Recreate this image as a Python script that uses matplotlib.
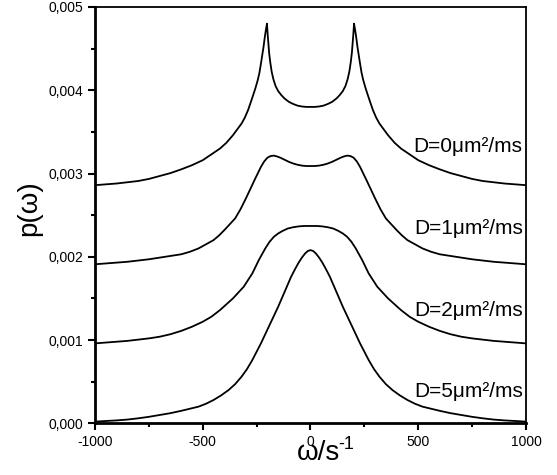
import numpy as np
from matplotlib import pyplot as plt

plt.rcParams['font.family'] = ['Liberation Sans', 'DejaVu Sans']

# curves, p in units of 1e-3
x_d0 = [-1000, -950, -900, -850, -800, -750, -700, -650, -600, -550, -500, -460, -420, -390, -360, -340,
        -320, -305, -290, -278, -265, -255, -245, -237, -230, -224, -218, -213, -208, -202,
        -199, -196, -192, -187, -180, -172, -162, -150, -135, -120, -100, -80, -60, -40, -20, 0,
        20, 40, 60, 80, 100, 120, 135, 150, 162, 172, 180, 187, 192, 196, 199,
        202, 208, 213, 218, 224, 230, 237, 245, 255, 265, 278, 290, 305, 320,
        340, 360, 390, 420, 460, 500, 550, 600, 650, 700, 750, 800, 850, 900, 950, 1000]
p_d0 = [2.86, 2.87, 2.88, 2.895, 2.91, 2.935, 2.97, 3.005, 3.05, 3.10, 3.16, 3.23, 3.30, 3.37, 3.46, 3.53,
        3.60, 3.67, 3.76, 3.85, 3.95, 4.03, 4.12, 4.21, 4.32, 4.42, 4.52, 4.62, 4.71, 4.80,
        4.68, 4.58, 4.45, 4.34, 4.22, 4.13, 4.05, 3.99, 3.94, 3.90, 3.86, 3.835, 3.815, 3.805, 3.80, 3.80,
        3.80, 3.805, 3.815, 3.835, 3.86, 3.90, 3.94, 3.99, 4.05, 4.13, 4.22, 4.34, 4.45, 4.58, 4.68,
        4.80, 4.71, 4.62, 4.52, 4.42, 4.32, 4.21, 4.12, 4.03, 3.95, 3.85, 3.76, 3.67, 3.60,
        3.53, 3.46, 3.37, 3.30, 3.23, 3.16, 3.10, 3.05, 3.005, 2.97, 2.935, 2.91, 2.895, 2.88, 2.87, 2.86]

x_d1 = [-1000, -950, -900, -850, -800, -750, -700, -650, -600, -560, -520, -485, -450, -425, -400, -375,
        -350, -325, -300, -280, -260, -245, -230, -215, -200, -185, -170, -155, -140, -120, -100, -80,
        -60, -40, -20, 0,
        20, 40, 60, 80, 100, 120, 140, 155, 170, 185, 200, 215, 230, 245, 260, 280, 300, 325,
        350, 375, 400, 425, 450, 485, 520, 560, 600, 650, 700, 750, 800, 850, 900, 950, 1000]
p_d1 = [1.91, 1.92, 1.93, 1.94, 1.955, 1.97, 1.99, 2.01, 2.03, 2.06, 2.10, 2.15, 2.20, 2.255, 2.32, 2.39,
        2.46, 2.57, 2.70, 2.81, 2.92, 3.00, 3.08, 3.145, 3.19, 3.21, 3.215, 3.205, 3.19, 3.165, 3.14, 3.12,
        3.105, 3.095, 3.09, 3.09,
        3.09, 3.095, 3.105, 3.12, 3.14, 3.165, 3.19, 3.205, 3.215, 3.21, 3.19, 3.145, 3.08, 3.00, 2.92, 2.81, 2.70, 2.57,
        2.46, 2.39, 2.32, 2.255, 2.20, 2.15, 2.10, 2.06, 2.03, 2.01, 1.99, 1.97, 1.955, 1.94, 1.93, 1.92, 1.91]

x_d2 = [-1000, -950, -900, -850, -800, -750, -700, -650, -600, -550, -500, -460, -420, -390, -360, -335,
        -310, -290, -270, -255, -240, -225, -210, -190, -170, -150, -130, -105, -80, -55, -30, 0,
        30, 55, 80, 105, 130, 150, 170, 190, 210, 225, 240, 255, 270, 290, 310,
        335, 360, 390, 420, 460, 500, 550, 600, 650, 700, 750, 800, 850, 900, 950, 1000]
p_d2 = [0.96, 0.97, 0.98, 0.99, 1.005, 1.02, 1.04, 1.07, 1.11, 1.16, 1.22, 1.28, 1.36, 1.43, 1.50, 1.57,
        1.64, 1.72, 1.80, 1.88, 1.96, 2.03, 2.10, 2.18, 2.24, 2.28, 2.31, 2.34, 2.355, 2.365, 2.37, 2.37,
        2.37, 2.365, 2.355, 2.34, 2.31, 2.28, 2.24, 2.18, 2.10, 2.03, 1.96, 1.88, 1.80, 1.72, 1.64,
        1.57, 1.50, 1.43, 1.36, 1.28, 1.22, 1.16, 1.11, 1.07, 1.04, 1.02, 1.005, 0.99, 0.98, 0.97, 0.96]

x_d5 = [-1000, -950, -900, -850, -800, -750, -700, -650, -600, -560, -520, -485, -450, -415, -380, -350,
        -320, -295, -270, -250, -230, -210, -190, -170, -150, -130, -110, -90, -70, -55, -40, -25, -12, 0,
        12, 25, 40, 55, 70, 90, 110, 130, 150, 170, 190, 210, 230, 250, 270, 295, 320,
        350, 380, 415, 450, 485, 520, 560, 600, 650, 700, 750, 800, 850, 900, 950, 1000]
p_d5 = [0.02, 0.028, 0.035, 0.045, 0.06, 0.078, 0.10, 0.122, 0.15, 0.175, 0.20, 0.235, 0.28, 0.335, 0.40, 0.47,
        0.56, 0.65, 0.76, 0.86, 0.96, 1.07, 1.18, 1.29, 1.40, 1.52, 1.64, 1.76, 1.86, 1.93, 1.99, 2.04, 2.07, 2.08,
        2.07, 2.04, 1.99, 1.93, 1.86, 1.76, 1.64, 1.52, 1.40, 1.29, 1.18, 1.07, 0.96, 0.86, 0.76, 0.65, 0.56,
        0.47, 0.40, 0.335, 0.28, 0.235, 0.20, 0.175, 0.15, 0.122, 0.10, 0.078, 0.06, 0.045, 0.035, 0.028, 0.02]

labels = ['D=0\u03bcm\u00b2/ms', 'D=1\u03bcm\u00b2/ms', 'D=2\u03bcm\u00b2/ms', 'D=5\u03bcm\u00b2/ms']
label_y = [3.32, 2.34, 1.36, 0.38]

xticks = [-1000, -500, 0, 500, 1000]
yticks = [0, 0.001, 0.002, 0.003, 0.004, 0.005]
yticklabels = ['0,000', '0,001', '0,002', '0,003', '0,004', '0,005']

fig = plt.figure(figsize=(5.57, 4.75), dpi=100)
ax = fig.add_axes([0.1706, 0.1088, 0.7737, 0.8765])

for xs, ps in [(x_d0, p_d0), (x_d1, p_d1), (x_d2, p_d2), (x_d5, p_d5)]:
    ax.plot(xs, np.array(ps) * 1e-3, color='black', lw=1.3)

for txt, yy in zip(labels, label_y):
    ax.text(985, yy * 1e-3, txt, ha='right', va='center', fontsize=15)

ax.set_xlim(-1000, 1000)
ax.set_ylim(0, 0.005)
ax.set_xticks(xticks)
ax.set_xticklabels([str(t) for t in xticks])
ax.set_xticks([-750, -250, 250, 750], minor=True)
ax.set_yticks(yticks)
ax.set_yticklabels(yticklabels)
ax.set_yticks([0.0005, 0.0015, 0.0025, 0.0035, 0.0045], minor=True)
ax.tick_params(which='major', direction='out', length=5, width=1.5, labelsize=10, pad=3.5)
ax.tick_params(which='minor', direction='out', length=3, width=1.5)

for side in ['left', 'bottom']:
    ax.spines[side].set_linewidth(2)
for side in ['top', 'right']:
    ax.spines[side].set_linewidth(1.3)

ax.set_ylabel('p(\u03c9)', fontsize=20)
ax.yaxis.set_label_coords(-0.123, 0.517)
# x label placed by hand so the omega sits under the "0" tick label
fig.text(0.571, 0.031, '\u03c9/s', fontsize=20, ha='center', va='baseline')
fig.text(0.607, 0.083, '-1', fontsize=13, va='top', ha='left')

plt.savefig('out.png', dpi=100)
